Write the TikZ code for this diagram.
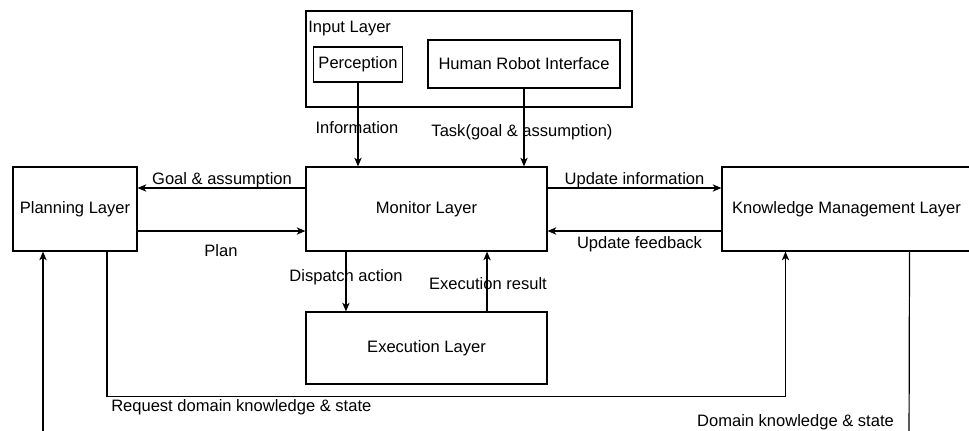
\documentclass[tikz,border=0pt]{standalone}
\usepackage{fontspec}
\setmainfont{Liberation Sans}
\usetikzlibrary{arrows.meta}
\begin{document}
\begin{tikzpicture}[x=0.75pt,y=-0.75pt,
  font=\fontsize{12.4}{15}\selectfont,
  box/.style={draw, line width=0.9pt, inner sep=0pt, align=center},
  lbl/.style={inner sep=0pt, anchor=center},
  conn/.style={line width=0.9pt},
  arr/.style={conn, -{Stealth[length=6.5pt,width=5.5pt,inset=1.8pt]}}]
\useasboundingbox (0,0) rectangle (969,431);
\clip (0,0) rectangle (969,431);
% boxes
\node[box, minimum width=244.5pt, minimum height=72pt] (inp) at (469,59) {};
\node[lbl, anchor=west] (inplbl) at (308,29) {Input Layer};
\node[box, minimum width=66.75pt, minimum height=26.25pt] (perc) at (358,64.5) {Perception};
\node[box, minimum width=144pt, minimum height=36pt] (hri) at (524,64) {Human Robot Interface};
\node[box, minimum width=93pt, minimum height=63pt] (plan) at (75,209) {Planning Layer};
\node[box, minimum width=180.75pt, minimum height=63pt] (mon) at (426.5,209) {Monitor Layer};
\node[box, minimum width=180.75pt, minimum height=54pt] (exe) at (426.5,348) {Execution Layer};
\node[box, minimum width=186.75pt, minimum height=63pt] (km) at (846.5,209) {Knowledge Management Layer};
% connectors
\draw[arr] (perc.south) -- (perc.south |- mon.north);
\draw[arr] (hri.south) -- (hri.south |- mon.north);
\draw[arr] ([yshift=15.75pt]mon.west) -- ([yshift=15.75pt]plan.east);
\draw[arr] ([yshift=-16.5pt]plan.east) -- ([yshift=-16.5pt]mon.west);
\draw[arr] ([yshift=15.75pt]mon.east) -- ([yshift=15.75pt]km.west);
\draw[arr] ([yshift=-16.5pt]km.west) -- ([yshift=-16.5pt]mon.east);
\draw[arr] ([xshift=-60.4pt]mon.south) -- ([xshift=-60.4pt]exe.north);
\draw[arr] ([xshift=45.4pt]exe.north) -- ([xshift=45.4pt]mon.south);
\coordinate (kmin) at ([xshift=-45.75pt]km.south);
\draw[arr] ([xshift=24pt]plan.south) -- ++(0,145) -| (kmin);
\coordinate (lin) at (43,445);
\draw[arr] (lin) -- (lin |- plan.south);
\coordinate (kmout) at ([xshift=47.25pt]km.south);
\coordinate (kmend) at (909,445);
\draw[conn] (kmout) -- (kmend);
% labels
\node[lbl] (l1) at (357,128) {Information};
\node[lbl] (l2) at (522,132) {Task(goal \& assumption)};
\node[lbl] (l3) at (222,180) {Goal \& assumption};
\node[lbl] (l4) at (221,251) {Plan};
\node[lbl] (l5) at (634.5,180) {Update information};
\node[lbl] (l6) at (639.5,244) {Update feedback};
\node[lbl] (l7) at (346,277) {Dispatch action};
\node[lbl] (l8) at (488,284) {Execution result};
\node[lbl, anchor=west] (l9) at (111,407) {Request domain knowledge \& state};
\node[lbl] (l10) at (795.5,422) {Domain knowledge \& state};
\end{tikzpicture}
\end{document}
